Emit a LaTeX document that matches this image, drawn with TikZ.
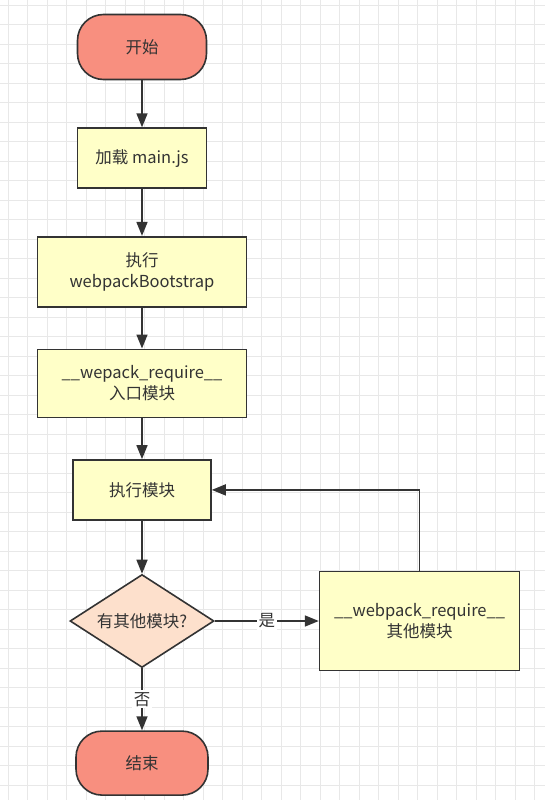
\documentclass[tikz,border=0pt]{standalone}
\usepackage{fontspec}
\setmainfont{Noto Sans CJK SC}
\usetikzlibrary{arrows.meta,positioning,shapes.geometric}
\definecolor{termred}{HTML}{F88F7F}
\definecolor{boxyellow}{HTML}{FFFFC8}
\definecolor{decpeach}{HTML}{FDE0CC}
\definecolor{inkgray}{HTML}{333333}
\definecolor{gridgray}{HTML}{E8E8E8}

\tikzset{
  terminal/.style={draw=inkgray, line width=1.6pt, fill=termred, rounded corners=26pt, inner sep=0pt, align=center},
  stepbox/.style={draw=inkgray, line width=1.6pt, fill=boxyellow, inner sep=0pt, align=center},
  decision/.style={draw=inkgray, line width=1.6pt, fill=decpeach, diamond, shape aspect=1.55, inner sep=0pt, align=center},
  flow/.style={draw=inkgray, line width=1.6pt, ->},
  gridline/.style={draw=gridgray, line width=0.6pt}
}

\begin{document}
\begin{tikzpicture}[x=1pt, y=-1pt, >={Triangle[length=14pt,width=11pt]}, font=\fontsize{16.5}{21}\selectfont, every node/.append style={text=inkgray}]
    \useasboundingbox[fill=white] (0,0) rectangle (545,800);
    % Background grid
    \foreach \gx in {8,27.5,...,545} \draw[gridline] (\gx,0) -- (\gx,800);
    \foreach \gy in {5,24.5,...,800} \draw[gridline] (0,\gy) -- (545,\gy);
    % Main column
    \node[terminal, minimum width=129pt, minimum height=65pt] (start) at (142,47) {开始};
    \node[stepbox, minimum width=129pt, minimum height=60pt, below=47pt of start] (loadjs) {加载 main.js};
    \node[stepbox, minimum width=209pt, minimum height=70pt, below=47pt of loadjs] (boot) {执行\\webpackBootstrap};
    \node[stepbox, minimum width=209pt, minimum height=68pt, below=41pt of boot] (entry) {\_\_wepack\_require\_\_\\入口模块};
    \node[stepbox, minimum width=138pt, minimum height=60pt, below=41pt of entry] (exec) {执行模块};
    % Decision and loop
    \node[decision, minimum width=144pt, minimum height=93pt, below=53pt of exec] (more) {有其他模块?};
    \node[stepbox, minimum width=200pt, minimum height=99pt, right=104pt of more] (other) {\_\_webpack\_require\_\_\\其他模块};
    \node[terminal, minimum width=132pt, minimum height=64pt, below=62pt of more] (finish) {结束};

    % Arrows
    \draw[flow] (start) -- (loadjs);
    \draw[flow] (loadjs) -- (boot);
    \draw[flow] (boot) -- (entry);
    \draw[flow] (entry) -- (exec);
    \draw[flow] (exec) -- (more);
    \draw[flow] (more) -- node[fill=white, inner sep=2pt] {是} (other);
    \draw[flow] (other.north) |- (exec.east);
    \draw[flow] (more) -- node[fill=white, inner sep=2pt] {否} (finish);
\end{tikzpicture}
\end{document}
